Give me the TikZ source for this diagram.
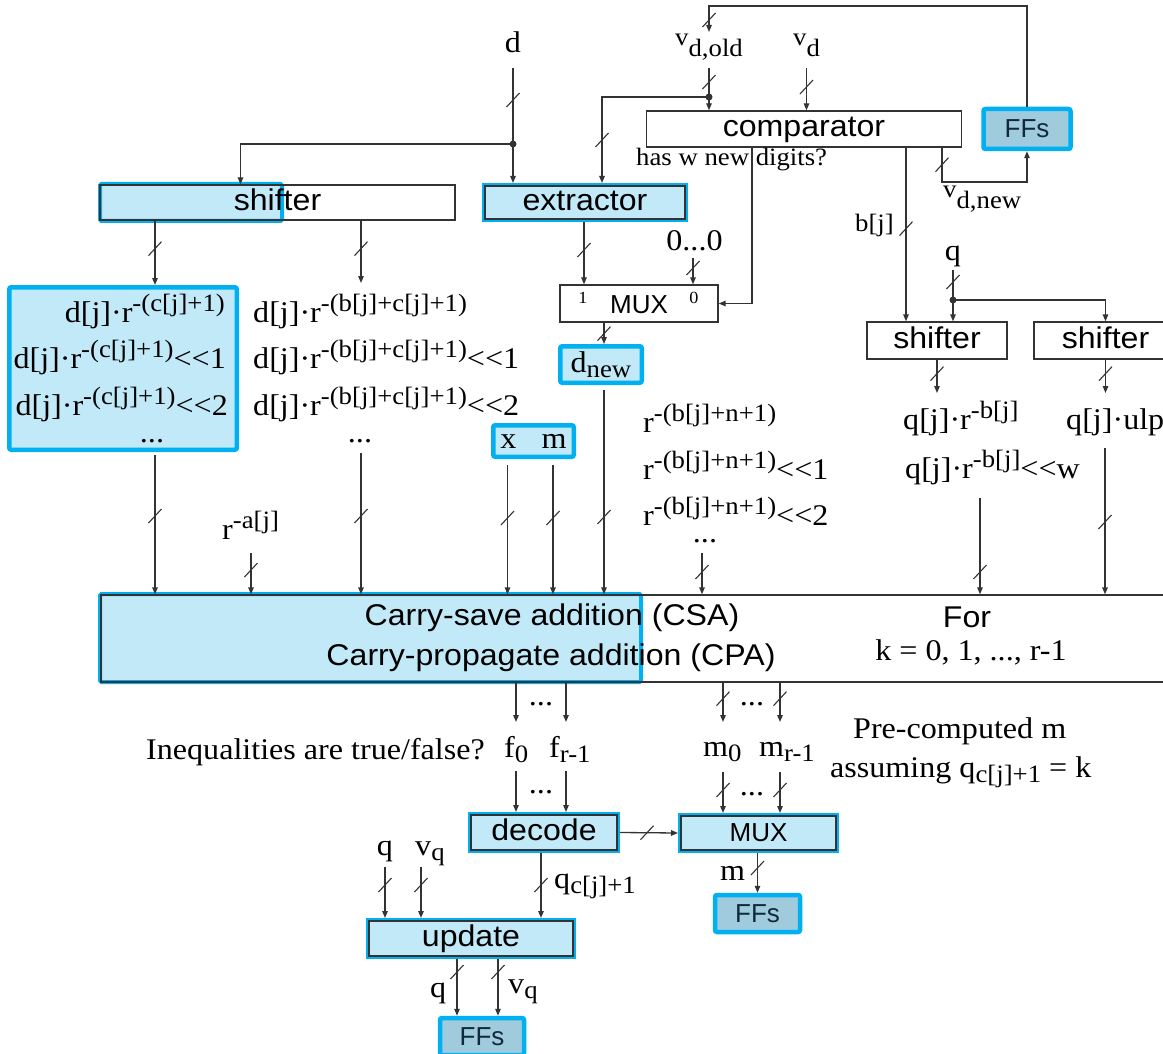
\documentclass[tikz,border=0pt]{standalone}
\usepackage{fontspec}
\setmainfont[FakeStretch=1.07]{Liberation Serif}
\setsansfont[FakeStretch=1.07]{Liberation Sans}
\newfontfamily\unitfont{Liberation Sans}
\usetikzlibrary{arrows.meta,decorations.markings,calc}

\definecolor{hlfill}{HTML}{C1E9F8}
\definecolor{cyanb}{HTML}{00B0F0}
\definecolor{ffill}{HTML}{A0CBDC}
\definecolor{fftext}{HTML}{102A3A}
\definecolor{wirec}{HTML}{333333}

\newcommand\serifL{\rmfamily\fontsize{30}{34}\selectfont}
\newcommand\serifS{\rmfamily\fontsize{25}{28}\selectfont}
\newcommand\sansL{\sffamily\fontsize{30}{34}\selectfont}
\newcommand\unitF{\unitfont\fontsize{26}{28}\selectfont}
% raised / lowered indices
\newcommand\hiS[1]{\raisebox{11pt}{\fontsize{25}{28}\selectfont #1}}
\newcommand\loS[1]{\raisebox{-5pt}{\fontsize{25}{28}\selectfont #1}}
\newcommand\vsubd[1]{{\fontsize{25}{28}\selectfont v\raisebox{-11pt}{#1}}}
% left shift sign, kept as two separate glyphs
\newcommand\lsh{<{}<}

\tikzset{
  wire/.style={draw=wirec, line width=1.3pt},
  arr/.style={-{Triangle[length=7pt,width=5.5pt]}},
  bus/.style={postaction={decorate,decoration={markings,
      mark=at position #1 with {\pgftransformresetnontranslations
        \draw[-,wirec,line width=1.1pt] (-6.5pt,-7pt)--(6.5pt,7pt);}}}},
  dot/.style={circle, fill=wirec, inner sep=0pt, minimum size=7pt},
  plainbox/.style={draw=wirec, line width=1.3pt, inner sep=0pt, font=\sansL,
      text height=16pt, text depth=0pt},
  hlbox/.style={plainbox, fill=hlfill, outer sep=3pt,
      preaction={draw=cyanb, line width=6pt}},
  ffbox/.style={draw=cyanb, fill=ffill, line width=4.5pt, rounded corners=2pt,
      inner sep=0pt, text=fftext, font=\unitF, text height=17pt, text depth=0pt},
  pad/.style={draw=cyanb, fill=hlfill, line width=4.5pt, rounded corners=2pt, inner sep=0pt},
  lbl/.style={inner sep=0pt, font=\serifL},
  slbl/.style={inner sep=0pt, font=\serifS},
}

\begin{document}
\begin{tikzpicture}[x=1pt,y=-1pt]
\useasboundingbox (0,0) rectangle (1163,1054);
\clip (0,0) rectangle (1163,1054);

% highlight patches under the partly marked blocks
\draw[pad, line width=4pt, rounded corners=1.5pt] (100,184) rectangle (282,221);
\draw[pad, line width=4pt, rounded corners=1.5pt] (100,594) rectangle (641,682);

% blocks
\node[plainbox, minimum width=355pt, minimum height=35pt] (shl) at (277.5,202.5) {shifter};
\node[hlbox, minimum width=200pt, minimum height=33pt] (ext) at (585,202.5) {extractor};
\node[plainbox, minimum width=315pt, minimum height=36pt] (cmp) at (804,129) {comparator};
\node[ffbox, minimum width=87pt, minimum height=40pt] (ffa) at (1027,129) {FFs};
\node[plainbox, font=\unitF, text height=19pt, minimum width=158pt, minimum height=37pt] (mux1) at (639,303.5) {MUX};
\node[pad, font=\serifL, text height=15pt, text depth=0pt, minimum width=81.5pt, minimum height=36.5pt] (dnew) at (601,364.5) {d\loS{new}};
\node[pad, font=\serifL, text height=14pt, text depth=0pt, minimum width=80.5pt, minimum height=31.5pt] (xm) at (533.5,441) {x\hspace{25pt}m};
\node[pad, minimum width=227.5pt, minimum height=162.5pt] (lbox) at (123,368.5) {};
\node[plainbox, minimum width=1149pt, minimum height=87pt] (csa) at (675.5,638.5) {};
\node[plainbox, minimum width=140pt, minimum height=37pt] (sh1) at (937,340.5) {shifter};
\node[plainbox, minimum width=143pt, minimum height=37pt] (sh2) at (1105.5,340.5) {shifter};
\node[hlbox, minimum width=146pt, minimum height=35pt] (dec) at (544,832.5) {decode};
\node[hlbox, font=\unitF, text height=17pt, minimum width=155pt, minimum height=34pt] (mux2) at (758.5,833) {MUX};
\node[hlbox, minimum width=204pt, minimum height=35pt] (upd) at (471,938.5) {update};
\node[ffbox, minimum width=85pt, minimum height=37pt] (ffm) at (757.5,913.5) {FFs};
\node[ffbox, minimum width=84pt, minimum height=37pt] (ffq) at (482,1036.5) {FFs};

% top labels
\node[lbl, anchor=base] (ld) at (513,53) {d};
\node[lbl, anchor=base west] (lvo) at (675,46) {\vsubd{d,old}};
\node[lbl, anchor=base west] (lvd) at (793,46) {\vsubd{d}};
\node[slbl, anchor=base west] (lhas) at (636,166) {has w new digits?};
\node[slbl, anchor=base east] (lbj) at (894,232) {b[j]};
\node[lbl, anchor=base west] (lvn) at (943,197) {\vsubd{d,new}};
\node[lbl, anchor=base] (zeros) at (694.5,251) {0...0};
\node[inner sep=0pt, font=\rmfamily\fontsize{17}{20}\selectfont, anchor=base] (mone) at (583,303) {1};
\node[inner sep=0pt, font=\rmfamily\fontsize{17}{20}\selectfont, anchor=base] (mzero) at (694,303) {0};
\node[lbl, anchor=base] (lq) at (953,260) {q};

% operand lists
\node[lbl, anchor=base east] (dl1) at (225,322) {d[j]·r\hiS{-(c[j]+1)}};
\node[lbl, anchor=base east] (dl2) at (226,368) {d[j]·r\hiS{-(c[j]+1)}\lsh 1};
\node[lbl, anchor=base east] (dl3) at (228,415) {d[j]·r\hiS{-(c[j]+1)}\lsh 2};
\node[lbl, anchor=base] (dl4) at (152,442) {...};
\node[lbl, anchor=base west] (dm1) at (253,322) {d[j]·r\hiS{-(b[j]+c[j]+1)}};
\node[lbl, anchor=base west] (dm2) at (253,368) {d[j]·r\hiS{-(b[j]+c[j]+1)}\lsh 1};
\node[lbl, anchor=base west] (dm3) at (253,415) {d[j]·r\hiS{-(b[j]+c[j]+1)}\lsh 2};
\node[lbl, anchor=base] (dm4) at (360,442) {...};
\node[lbl, anchor=base west] (lra) at (222,539) {r\hiS{-a[j]}};
\node[lbl, anchor=base west] (rb1) at (643,432) {r\hiS{-(b[j]+n+1)}};
\node[lbl, anchor=base west] (rb2) at (643,479) {r\hiS{-(b[j]+n+1)}\lsh 1};
\node[lbl, anchor=base west] (rb3) at (643,525) {r\hiS{-(b[j]+n+1)}\lsh 2};
\node[lbl, anchor=base] (rb4) at (705,542) {...};
\node[lbl, anchor=base west] (qb1) at (903,429) {q[j]·r\hiS{-b[j]}};
\node[lbl, anchor=base west] (qb2) at (905,478) {q[j]·r\hiS{-b[j]}\lsh w};
\node[lbl, anchor=base west] (qu1) at (1066,429) {q[j]·ulp};

% adder texts
\node[inner sep=0pt, font=\sansL, anchor=base] (csa1) at (552,625) {Carry-save addition (CSA)};
\node[inner sep=0pt, font=\sansL, anchor=base] (csa2) at (551,665) {Carry-propagate addition (CPA)};
\node[inner sep=0pt, font=\sansL, anchor=base] (lfor) at (967,627) {For};
\node[lbl, anchor=base] (lk) at (971,660) {k = 0, 1, ..., r-1};

% lower labels
\node[lbl, anchor=base] (dots1) at (541,705) {...};
\node[lbl, anchor=base] (dots2) at (752,705) {...};
\node[lbl, anchor=base] (dots3) at (541,793) {...};
\node[lbl, anchor=base] (dots4) at (752,795) {...};
\node[lbl, anchor=base west] (lineq) at (146,759) {Inequalities are true/false?};
\node[lbl, anchor=base west] (lf0) at (504,757) {f\loS{0}};
\node[lbl, anchor=base west] (lf1) at (549,757) {f\loS{r-1}};
\node[lbl, anchor=base west] (lm0) at (703,756) {m\loS{0}};
\node[lbl, anchor=base west] (lm1) at (759,756) {m\loS{r-1}};
\node[lbl, anchor=base west] (lpre) at (853,738) {Pre-computed m};
\node[lbl, anchor=base west] (lass) at (830,777) {assuming q\loS{c[j]+1} = k};
\node[lbl, anchor=base] (luq) at (385,855) {q};
\node[lbl, anchor=base west] (luv) at (415,855) {v\loS{q}};
\node[lbl, anchor=base west] (lqc) at (554,888) {q\loS{c[j]+1}};
\node[lbl, anchor=base west] (lmo) at (720,880) {m};
\node[lbl, anchor=base west] (loq) at (430,997) {q};
\node[lbl, anchor=base west] (lov) at (508,993) {v\loS{q}};

% ---- connectors ----
% divisor fan-out
\coordinate (dIn) at (513,68);
\node[dot] (dot1) at (513,144) {};
\draw[wire, bus=32pt] (dIn) -- (dot1.center);
\draw[wire, arr] (dot1.center) -- (dot1.center |- ext.north);
\coordinate (shIn) at (240.5,0);
\draw[wire, arr] (dot1.center) -| (shIn |- shl.north);

% old valid-digit count
\coordinate (voIn) at (709,68);
\node[dot] (dot2) at (709,97) {};
\draw[wire, bus=14pt] (voIn) -- (dot2.center);
\draw[wire, arr] (dot2.center) -- (dot2.center |- cmp.north);
\coordinate (exIn) at (602,0);
\draw[wire, arr, bus=-43pt] (dot2.center) -| (exIn |- ext.north);

% valid-digit count
\coordinate (vdIn) at (806.5,68);
\draw[wire, arr, bus=19pt] (vdIn) -- (vdIn |- cmp.north);

% register feedback
\coordinate (fbTop) at (709,6);
\coordinate (voTip) at (709,32);
\draw[wire, arr, bus=-12pt] (ffa.north) |- (fbTop) -- (voTip);

% comparator outputs
\coordinate (cA) at (752,0);
\coordinate (cB) at (906,0);
\coordinate (cC) at (942,0);
\draw[wire, arr] (cmp.south -| cA) |- (mux1.east);
\draw[wire, arr, bus=81pt] (cmp.south -| cB) -- (sh1.north -| cB);
\coordinate (vnTurn) at (942,182);
\draw[wire, arr, bus=17pt] (cmp.south -| cC) -- (vnTurn) -| (ffa.south);

% extractor and digit multiplexer
\coordinate (eA) at (584,0);
\draw[wire, arr, bus=28pt] (ext.south -| eA) -- (mux1.north -| eA);
\coordinate (zIn) at (693,258);
\draw[wire, arr, bus=10pt] (zIn) -- (zIn |- mux1.north);
\coordinate (mA) at (604,0);
\draw[wire, arr, bus=11pt] (mux1.south -| mA) -- (dnew.north -| mA);

% shifter outputs
\coordinate (sA) at (155,0);
\coordinate (sB) at (361,0);
\coordinate (midTop) at (361,283);
\draw[wire, arr, bus=28pt] (shl.south -| sA) -- (lbox.north -| sA);
\draw[wire, arr, bus=28pt] (shl.south -| sB) -- (midTop);

% quotient shifters
\coordinate (qIn) at (953,270);
\node[dot] (dot3) at (953,300) {};
\draw[wire, bus=12pt] (qIn) -- (dot3.center);
\draw[wire, arr] (dot3.center) -- (dot3.center |- sh1.north);
\draw[wire, arr] (dot3.center) -| (sh2.north);
\coordinate (q1Tip) at (937,393);
\coordinate (q2Tip) at (1105.5,393);
\draw[wire, arr, bus=14pt] (sh1.south) -- (q1Tip);
\draw[wire, arr, bus=14pt] (sh2.south) -- (q2Tip);

% adder inputs
\coordinate (in1) at (155,455);
\coordinate (in2) at (251,553);
\coordinate (in3) at (361,453);
\coordinate (in4) at (507.5,465);
\coordinate (in5) at (553,465);
\coordinate (in6) at (604,390);
\coordinate (in7) at (702,553);
\coordinate (in8) at (980,498);
\coordinate (in9) at (1105,448);
\foreach \c/\s in {in1/61pt,in2/17pt,in3/63pt,in4/53pt,in5/53pt,in6/127pt,in7/19pt,in8/74pt,in9/74pt}
  \draw[wire, arr, bus=\s] (\c) -- (\c |- csa.north);

% adder outputs
\coordinate (fA) at (516,722);
\coordinate (fB) at (566,722);
\coordinate (gA) at (723,722);
\coordinate (gB) at (780,722);
\draw[wire, arr] (csa.south -| fA) -- (fA);
\draw[wire, arr] (csa.south -| fB) -- (fB);
\draw[wire, arr, bus=16pt] (csa.south -| gA) -- (gA);
\draw[wire, arr, bus=16pt] (csa.south -| gB) -- (gB);
\coordinate (fA2) at (516,771);
\coordinate (fB2) at (566,771);
\coordinate (gA2) at (723,772);
\coordinate (gB2) at (780,772);
\draw[wire, arr] (fA2) -- (fA2 |- dec.north);
\draw[wire, arr] (fB2) -- (fB2 |- dec.north);
\draw[wire, arr, bus=18pt] (gA2) -- (gA2 |- mux2.north);
\draw[wire, arr, bus=18pt] (gB2) -- (gB2 |- mux2.north);

% selection and update
\draw[wire, arr, bus=27pt] (dec.east) -- (mux2.west);
\coordinate (qcX) at (541,0);
\draw[wire, arr, bus=32pt] (dec.south -| qcX) -- (upd.north -| qcX);
\draw[wire, arr, bus=15pt] (mux2.south -| ffm.north) -- (ffm.north);
\coordinate (uq) at (385,867);
\coordinate (uv) at (421,867);
\draw[wire, arr, bus=18pt] (uq) -- (uq |- upd.north);
\draw[wire, arr, bus=18pt] (uv) -- (uv |- upd.north);
\coordinate (oq) at (457,0);
\coordinate (ov) at (498,0);
\draw[wire, arr, bus=13pt] (upd.south -| oq) -- (ffq.north -| oq);
\draw[wire, arr, bus=13pt] (upd.south -| ov) -- (ffq.north -| ov);
\end{tikzpicture}
\end{document}
